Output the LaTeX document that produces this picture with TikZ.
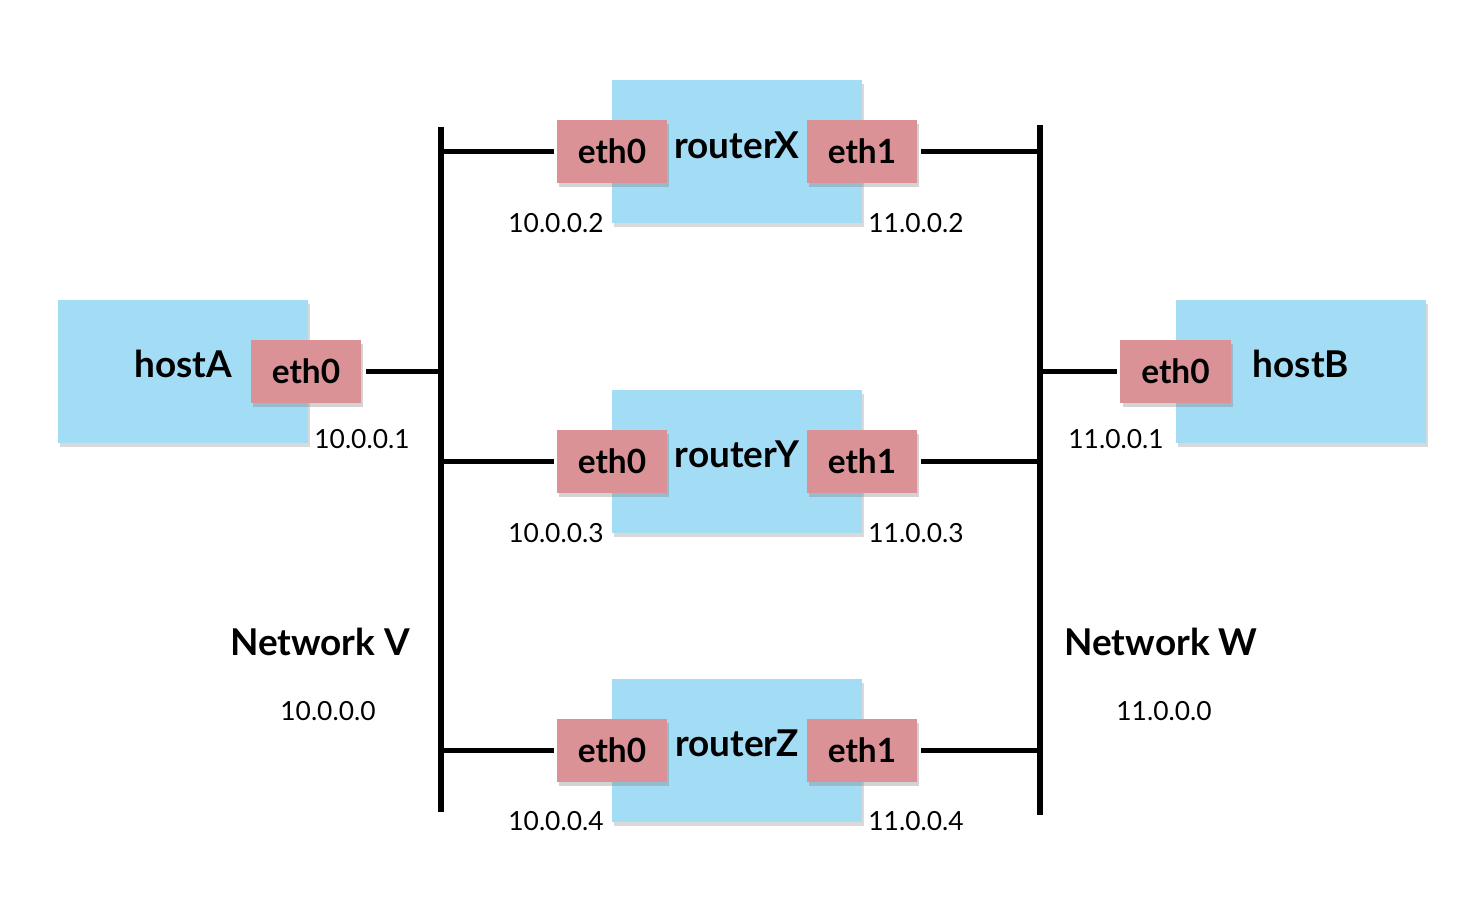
\documentclass[tikz,border=0pt]{standalone}
\usepackage{fontspec}
\setmainfont{Lato}
\usetikzlibrary{shadows}
\definecolor{boxblue}{RGB}{163,220,245}
\definecolor{ifpink}{RGB}{218,146,150}
\tikzset{
  devbox/.style={fill=boxblue, draw=none, minimum width=2.5cm, minimum height=1.43cm, inner sep=0pt,
    drop shadow={opacity=0.3, shadow xshift=0.6pt, shadow yshift=-1.2pt}},
  ifbox/.style={fill=ifpink, draw=none, minimum width=1.1cm, minimum height=0.63cm, inner sep=0pt,
    font=\bfseries\fontsize{9.5}{11}\selectfont,
    drop shadow={opacity=0.35, shadow xshift=0.6pt, shadow yshift=-1.2pt}},
  devname/.style={font=\bfseries\fontsize{10.5}{12}\selectfont, inner sep=0pt},
  netname/.style={font=\bfseries\fontsize{10.5}{12}\selectfont, inner sep=0pt},
  iplabel/.style={font=\fontsize{7.5}{9}\selectfont, inner sep=0pt},
  bus/.style={line width=1.6pt, draw=black},
  link/.style={line width=1.5pt, draw=black}
}
\begin{document}
\begin{tikzpicture}[x=0.01cm, y=-0.01cm]
\useasboundingbox (0,0) rectangle (1476,904);
% buses
\coordinate (vtop) at (441,127);
\coordinate (vbot) at (441,812);
\coordinate (wtop) at (1040,125);
\coordinate (wbot) at (1040,815);
\draw[bus] (vtop) -- (vbot);
\draw[bus] (wtop) -- (wbot);
% hostA
\node[devbox] (hA) at (183,371.5) {};
\node[devname] (hAn) at (183,364) {hostA};
\node[ifbox] (hA0) at (306,371.5) {eth0};
\node[iplabel] (hAip) at (362,439) {10.0.0.1};
% hostB
\node[devbox] (hB) at (1301,371.5) {};
\node[devname] (hBn) at (1301,364) {hostB};
\node[ifbox] (hB0) at (1175.5,371.5) {eth0};
\node[iplabel] (hBip) at (1116,439) {11.0.0.1};
% routers
\foreach \n/\y/\yy/\ya/\num in {X/151.5/145/223/2, Y/461.5/454/533/3, Z/750.5/743/821/4}{
  \node[devbox] (r\n) at (737,\y) {};
  \node[devname] (r\n n) at (737,\yy) {router\n};
  \node[ifbox] (r\n 0) at (612,\y) {eth0};
  \node[ifbox] (r\n 1) at (862,\y) {eth1};
  \node[iplabel] (r\n ipa) at (556,\ya) {10.0.0.\num};
  \node[iplabel] (r\n ipb) at (916,\ya) {11.0.0.\num};
  \draw[link, shorten >=0.6pt] (r\n 0.west -| vtop) -- (r\n 0.west);
  \draw[link] (r\n 1.east -| wtop) -- ([xshift=0.9pt]r\n 1.east);
}
% host links
\draw[link] (hA0.east -| vtop) -- ([xshift=1.2pt]hA0.east);
\draw[link] (hB0.west -| wtop) -- ([xshift=-0.8pt]hB0.west);
% network labels
\node[netname] (nV) at (320,642) {Network V};
\node[iplabel] (nVip) at (328,711) {10.0.0.0};
\node[netname] (nW) at (1161,642) {Network W};
\node[iplabel] (nWip) at (1164,711) {11.0.0.0};
\end{tikzpicture}
\end{document}
